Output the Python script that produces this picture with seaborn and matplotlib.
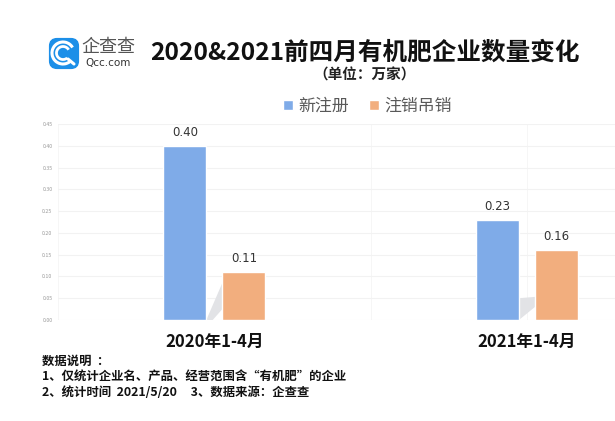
import matplotlib
matplotlib.use("Agg")
import matplotlib.pyplot as plt
import pandas as pd
import seaborn as sns
from matplotlib.patches import Arc, FancyBboxPatch, Polygon

periods = ["2020年1-4月", "2021年1-4月"]
new_reg = [0.40, 0.23]
cancelled = [0.11, 0.16]
series_names = ["新注册", "注销吊销"]
y_ticks = [0.00, 0.05, 0.10, 0.15, 0.20, 0.25, 0.30, 0.35, 0.40, 0.45]
notes = [
    "数据说明  ：",
    "1、仅统计企业名、产品、经营范围含“有机肥”的企业",
    "2、统计时间  2021/5/20     3、数据来源：企查查",
]

W, H = 615, 421
BLUE = "#7FABE8"
ORANGE = "#F2AE7E"

sns.set_theme(style="white")
plt.rcParams["font.family"] = ["Noto Sans CJK SC", "DejaVu Sans"]

df = pd.DataFrame({
    "period": periods * 2,
    "value": new_reg + cancelled,
    "series": [series_names[0]] * 2 + [series_names[1]] * 2,
})

fig = plt.figure(figsize=(W / 100, H / 100), dpi=100)
ax = fig.add_axes([58 / W, 1 - 320 / H, (W - 58) / W, 196 / H])

sns.barplot(data=df, x="period", y="value", hue="series", order=periods,
            hue_order=series_names, palette=[BLUE, ORANGE],
            width=0.3776, gap=0.271, saturation=1, ax=ax, zorder=3)

ax.set_xlim(-0.5, 1.2816)
ax.set_ylim(0, 0.45)
ax.set_yticks(y_ticks)
ax.set_yticklabels([f"{t:.2f}" for t in y_ticks], fontsize=3.8, color="#999999")
ax.tick_params(axis="y", length=0, pad=4)
ax.tick_params(axis="x", length=0, pad=9)
for lbl in ax.get_xticklabels():
    lbl.set_fontsize(12)
    lbl.set_fontweight("bold")
    lbl.set_color("#111111")
ax.set_xlabel("")
ax.set_ylabel("")
ax.grid(axis="y", color="#f2f2f2", lw=0.8, zorder=0)
for x in [-0.5, 0.5, 1]:
    ax.axvline(x, color="#f6f6f6", lw=0.7, zorder=0)
sns.despine(ax=ax, left=True, bottom=True, top=True, right=True)

for cont in ax.containers:
    ax.bar_label(cont, fmt="%.2f", padding=5, fontsize=8.5, color="#333333",
                 family="DejaVu Sans")

# grey shadow between the two bars of each group
blue_bars, orange_bars = ax.containers[0], ax.containers[1]
for i, (b, o) in enumerate(zip(blue_bars, orange_bars)):
    x0 = b.get_x() + b.get_width()
    x1 = o.get_x()
    if i == 0:
        pts = [(x0, 0), (x1, 0.085), (x1, 0.025), (x0 + (x1 - x0) * 0.4, 0)]
    else:
        pts = [(x0, 0), (x0, 0.05), (x1, 0.053), (x1, 0.03)]
    ax.add_patch(Polygon(pts, closed=True, fc="#e2e3e6", ec="none", zorder=2))

ax.legend(loc="center left", bbox_to_anchor=(283 / W, 1 - 106 / H),
          bbox_transform=fig.transFigure, ncol=2, frameon=False, fontsize=12.2,
          labelcolor="#595959", handlelength=0.6, handleheight=0.6,
          handletextpad=0.3, columnspacing=1.2, borderpad=0, borderaxespad=0)

# overlay in pixel coordinates for the header, logo and notes
ov = fig.add_axes([0, 0, 1, 1], zorder=5)
ov.set_xlim(0, W)
ov.set_ylim(H, 0)
ov.axis("off")

ov.text(365, 53, "2020&2021前四月有机肥企业数量变化", ha="center", va="center",
        fontsize=17.7, fontweight="bold", color="#111111")
ov.text(365, 75, "（单位：万家）", ha="center", va="center", fontsize=10.5,
        fontweight="bold", color="#222222")

ov.add_patch(FancyBboxPatch((51, 40), 26, 27, boxstyle="round,pad=0,rounding_size=6",
                            fc="#1C8FE8", ec="#1C8FE8", lw=3))
for d, lw in [(22, 2.2), (13, 2.0)]:
    ov.add_patch(Arc((63, 53), d, d, theta1=50, theta2=330, color="white", lw=lw))
ov.plot([68, 74], [59, 64], color="white", lw=2.2, solid_capstyle="round")
ov.text(108, 47, "企查查", ha="center", va="center", fontsize=13, color="#555555")
ov.text(108, 63, "Qcc.com", ha="center", va="center", fontsize=7.5, color="#333333",
        family="DejaVu Sans")

for y, line in zip([361, 377, 393], notes):
    ov.text(42, y, line, ha="left", va="center", fontsize=8.9, fontweight="bold",
            color="#111111")

fig.savefig("out.png", dpi=100)
